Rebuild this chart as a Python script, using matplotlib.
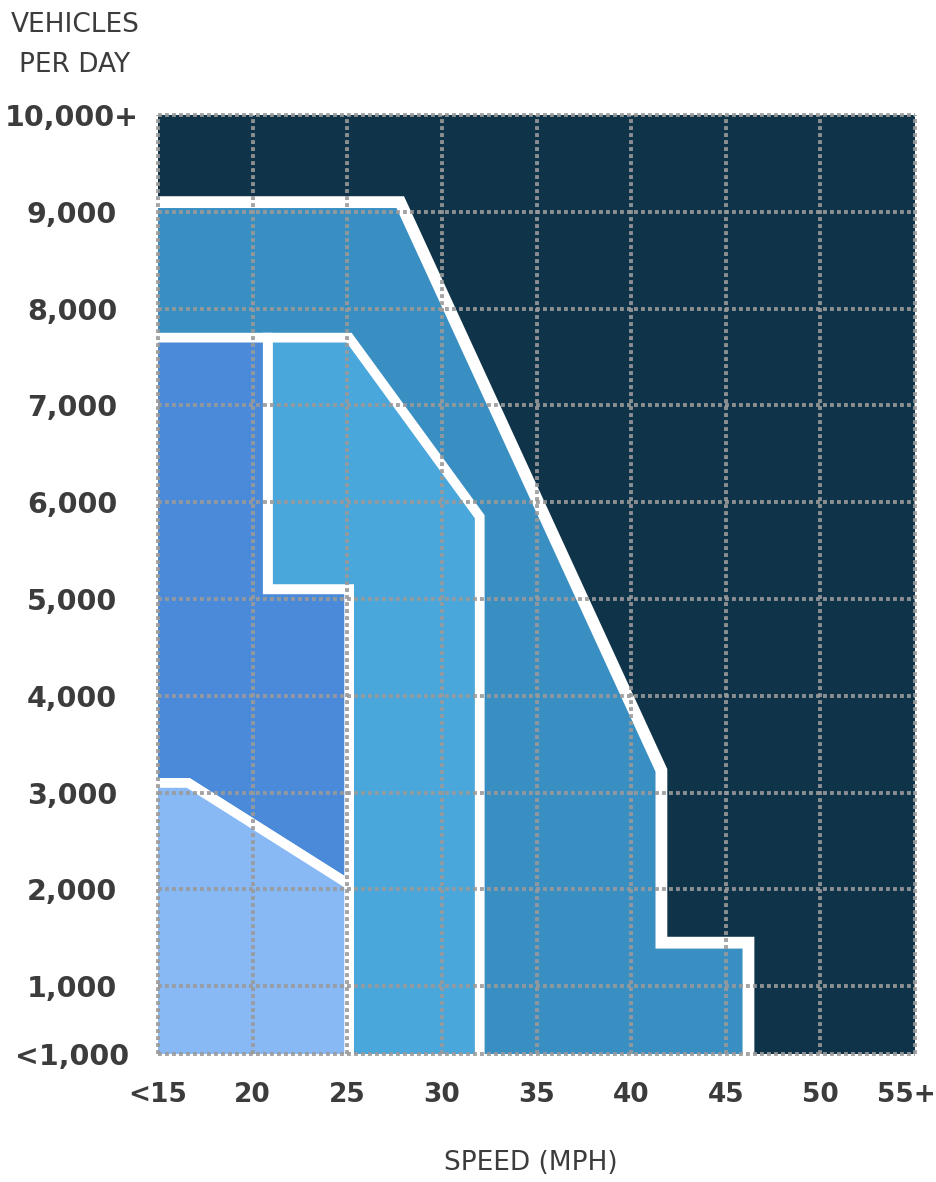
import matplotlib
matplotlib.use("Agg")
import matplotlib.pyplot as plt
from matplotlib.patches import Polygon
from matplotlib.transforms import ScaledTranslation

# ---- data ----
speed_ticks = [15, 20, 25, 30, 35, 40, 45, 50, 55]
speed_labels = ['<15', '20', '25', '30', '35', '40', '45', '50', '55+']
volume_ticks = [300, 1000, 2000, 3000, 4000, 5000, 6000, 7000, 8000, 9000, 10000]
volume_labels = ['<1,000', '1,000', '2,000', '3,000', '4,000', '5,000',
                 '6,000', '7,000', '8,000', '9,000', '10,000+']

# zone outlines (speed mph, vehicles/day); values beyond axes are clipped
zone_outer_speed = [13, 27.8, 41.6, 41.6, 46.2, 46.2, 13]
zone_outer_volume = [9100, 9100, 3230, 1450, 1450, -200, -200]

zone_mid_speed = [20.8, 25.1, 32.0, 32.0, 25.1, 25.1, 20.8]
zone_mid_volume = [7700, 7700, 5850, -200, -200, 5100, 5100]

zone_royal_speed = [13, 20.8, 20.8, 25.1, 25.1, 16.6, 13]
zone_royal_volume = [7700, 7700, 5100, 5100, 2050, 3100, 3100]

zone_light_speed = [13, 25.1, 25.1, 16.6, 13]
zone_light_volume = [-200, -200, 2050, 3100, 3100]

navy = '#0f3449'
c_outer = '#3a8fc2'
c_mid = '#4aa7dc'
c_royal = '#4a8ad8'
c_light = '#88b9f5'
text_c = '#3c3c3c'

fig = plt.figure(figsize=(9.36, 11.82), dpi=100)
ax = fig.add_axes([158/936, 1-1054/1182, (915-158)/936, (1054-115)/1182])
ax.set_xlim(15, 55)
ax.set_ylim(300, 10000)
ax.set_facecolor(navy)
for s in ax.spines.values():
    s.set_visible(False)

def add_zone(xs, ys, color, lw):
    p = Polygon(list(zip(xs, ys)), closed=True, facecolor=color,
                edgecolor='white', linewidth=lw, joinstyle='miter', zorder=2)
    ax.add_patch(p)

add_zone(zone_outer_speed, zone_outer_volume, c_outer, 8.5)
add_zone(zone_mid_speed, zone_mid_volume, c_mid, 7.0)
add_zone(zone_royal_speed, zone_royal_volume, c_royal, 7.0)
add_zone(zone_light_speed, zone_light_volume, c_light, 7.0)

grid_kw = dict(color='#9a9a9a', alpha=0.9, linewidth=2.8,
               linestyle=(0, (1.0, 0.8)), clip_on=False, zorder=5)
for x in speed_ticks:
    ax.plot([x, x], [volume_ticks[0], volume_ticks[-1]], **grid_kw)
for y in volume_ticks:
    ax.plot([speed_ticks[0], speed_ticks[-1]], [y, y], **grid_kw)

ax.set_xticks(speed_ticks)
ax.set_xticklabels(speed_labels)
ax.set_yticks(volume_ticks)
ax.set_yticklabels(volume_labels)
ax.tick_params(length=0, colors=text_c)
ax.tick_params(axis='y', pad=62, labelsize=20.5)
ax.tick_params(axis='x', pad=20, labelsize=19)
for lab in ax.get_xticklabels() + ax.get_yticklabels():
    lab.set_fontweight('bold')
    lab.set_fontfamily('DejaVu Sans')
for lab in ax.get_yticklabels():
    lab.set_ha('center')
last = ax.get_xticklabels()[-1]
last.set_transform(last.get_transform() + ScaledTranslation(-6/72, 0, fig.dpi_scale_trans))

fig.text(75/936, 1-25/1182, 'VEHICLES', ha='center', va='center',
         fontsize=19, color=text_c, family='DejaVu Sans')
fig.text(75/936, 1-65/1182, 'PER DAY', ha='center', va='center',
         fontsize=19, color=text_c, family='DejaVu Sans')
fig.text(531/936, 1-1163/1182, 'SPEED (MPH)', ha='center', va='center',
         fontsize=19, color=text_c, family='DejaVu Sans')

fig.savefig('out.png', dpi=100)
